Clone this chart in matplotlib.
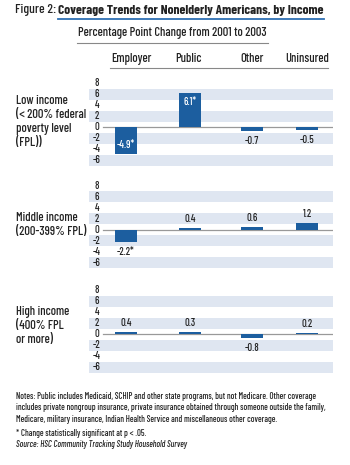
import numpy as np
import matplotlib
matplotlib.use("Agg")
import matplotlib.pyplot as plt
from matplotlib.lines import Line2D
from matplotlib.patches import Rectangle

# ---- data ----
columns = ["Employer", "Public", "Other", "Uninsured"]
groups = ["Low income\n(< 200% federal\npoverty level\n(FPL))",
          "Middle income\n(200-399% FPL)",
          "High income\n(400% FPL\nor more)"]
low_vals = [-4.9, 6.1, -0.7, -0.5]
mid_vals = [-2.2, 0.4, 0.6, 1.2]
high_vals = [0.4, 0.3, -0.8, 0.2]
low_sig = [True, True, False, False]
mid_sig = [True, False, False, False]
high_sig = [False, False, False, False]
yticks = [8, 6, 4, 2, 0, -2, -4, -6]

plt.rcParams['font.family'] = ['Barlow Condensed', 'DejaVu Sans']
plt.rcParams['font.weight'] = 'medium'

W, H = 350, 465
fig = plt.figure(figsize=(W / 100, H / 100), dpi=100)

def fx(x):
    return x / W

def fy(y):
    return 1 - y / H

bar_col = '#1c5e9f'
band_col = '#dfe6f1'
txt_col = '#222222'
pos = [37, 101, 163, 218]   # bar centres (axes units, 0..244)

# title
fig.text(fx(15), fy(10), "Figure 2:", fontsize=9.7, va='center', ha='left', color=txt_col)
fig.text(fx(58), fy(10), "Coverage Trends for Nonelderly Americans, by Income",
         fontsize=9.7, fontweight='bold', va='center', ha='left', color=txt_col)
fig.add_artist(Line2D([fx(58), fx(324)], [fy(19.5), fy(19.5)], color='#2e6fb3', lw=1.3))
fig.text(fx(172), fy(33), "Percentage Point Change from 2001 to 2003",
         fontsize=9, va='center', ha='center', color=txt_col)
fig.add_artist(Line2D([fx(77), fx(268)], [fy(43), fy(43)], color='#888888', lw=0.8))
for c, xc in zip(columns, [131, 189, 252, 307]):
    fig.text(fx(xc), fy(59), c, fontsize=9, va='center', ha='center', color=txt_col)
fig.add_artist(Line2D([fx(110), fx(328)], [fy(68), fy(68)], color='#888888', lw=0.8))

panel_tops = [77.5, 180.5, 284.5]
label_y = [122, 225, 326]
data = [(low_vals, low_sig), (mid_vals, mid_sig), (high_vals, high_sig)]

for top, ly, grp, (vals, sig) in zip(panel_tops, label_y, groups, data):
    ax = fig.add_axes([fx(89), fy(top + 88), 244 / W, 88 / H])
    ax.set_xlim(0, 244)
    ax.set_ylim(-7, 9)
    ax.axis('off')
    for b in [6, 2, -2, -6]:
        ax.add_patch(Rectangle((0, b - 1), 244, 2, color=band_col, lw=0, zorder=0))
    ax.plot([14, 244], [0, 0], color='#999999', lw=0.9, zorder=1)
    ax.bar(pos, vals, width=22, color=bar_col, zorder=2)
    for t in yticks:
        ax.text(8, t, str(t), fontsize=7.5, ha='center', va='center', color=txt_col)
    for x, v, s in zip(pos, vals, sig):
        lab = f"{v:.1f}" + ("*" if s else "")
        if abs(v) > 3:
            # label sits inside long bars
            off = -9 if v > 0 else 9
            ax.annotate(lab, (x, v), xytext=(0, off), textcoords='offset pixels',
                        ha='center', va='center', fontsize=7.5, color='white')
        else:
            off = 9 if v > 0 else -10
            ax.annotate(lab, (x, v), xytext=(0, off), textcoords='offset pixels',
                        ha='center', va='center', fontsize=7.5, color=txt_col)
    fig.text(fx(16), fy(ly), grp, fontsize=9, ha='left', va='center', linespacing=1.25,
             color=txt_col)

notes = ("Notes: Public includes Medicaid, SCHIP and other state programs, but not Medicare. Other coverage\n"
         "includes private nongroup insurance, private insurance obtained through someone outside the family,\n"
         "Medicare, military insurance, Indian Health Service and miscellaneous other coverage.")
fig.text(fx(16), fy(392), notes, fontsize=6.3, ha='left', va='top', linespacing=1.35, color=txt_col)
fig.text(fx(16), fy(433), "* Change statistically significant at p < .05.",
         fontsize=6.3, ha='left', va='center', color=txt_col)
fig.text(fx(16), fy(444), "Source: HSC Community Tracking Study Household Survey",
         fontsize=6.3, ha='left', va='center', style='italic', color=txt_col)

fig.savefig("out.png", dpi=100)
